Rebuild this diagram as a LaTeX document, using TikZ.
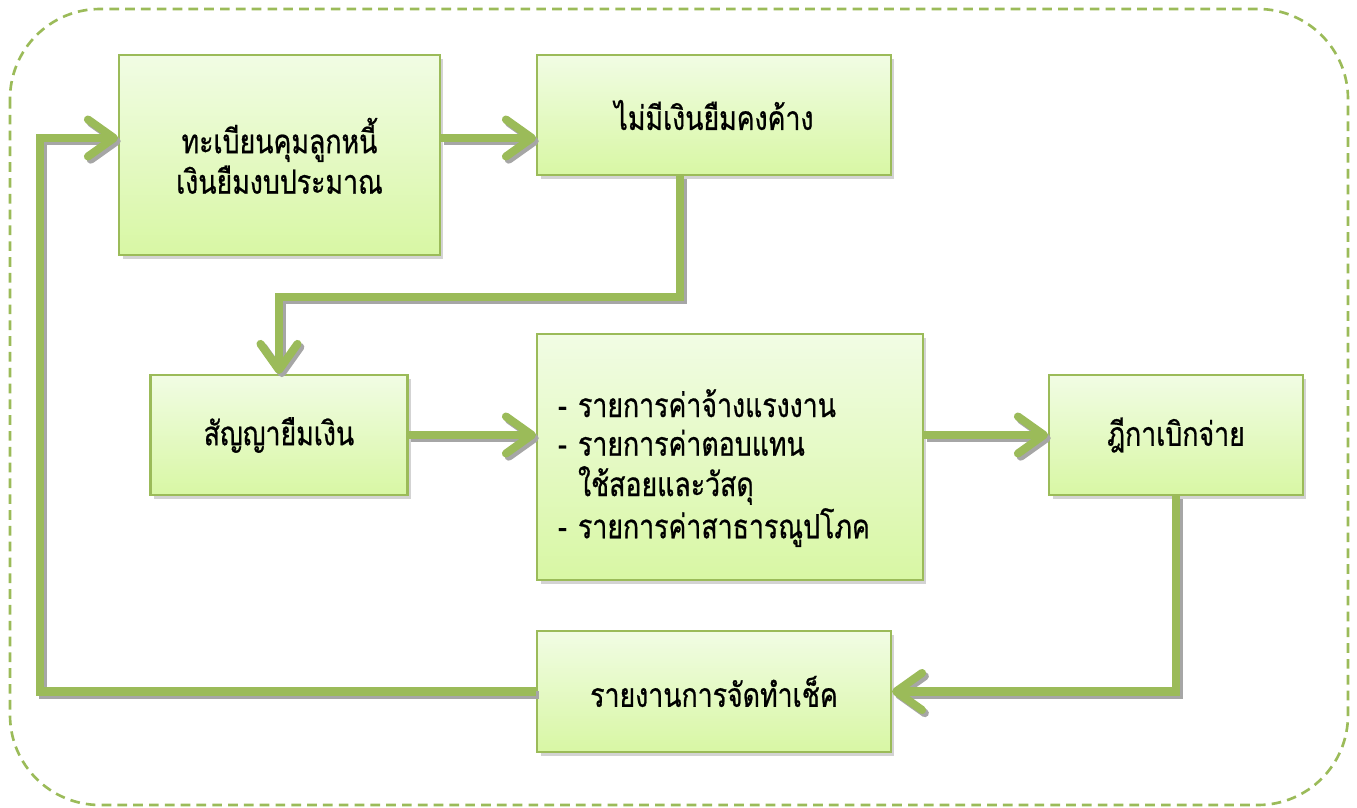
\documentclass[tikz,border=0pt]{standalone}
\usepackage{fontspec}
\newfontfamily\thaifont[Script=Thai, FakeStretch=0.8, FakeBold=0.7]{Loma}
\usepackage{tikz}
\usetikzlibrary{arrows.meta}
\usetikzlibrary{shadows}
\usepackage{xcolor}
\definecolor{linegreen}{HTML}{9BBB59}
\definecolor{boxtop}{HTML}{F1FCE4}
\definecolor{boxbottom}{HTML}{D8F7A4}
% 带阴影的粗箭头
\newcommand{\flowarrow}[1]{%
    \draw[flowshade, transform canvas={shift={(1.6pt,-1.8pt)}}] #1;
    \draw[flow] #1;}

\begin{document}
\begin{tikzpicture}[x=0.02cm, y=-0.02cm]
        % 定义样式:渐变绿色方框,带阴影
        \tikzstyle{gbox}=[rectangle, draw=linegreen, line width=1.2pt, top color=boxtop, bottom color=boxbottom,
            drop shadow={shadow xshift=2pt, shadow yshift=-2.5pt, opacity=0.35}, font=\thaifont\fontsize{19}{23}\selectfont, align=center]
        % 粗箭头:开口箭头
        \tikzstyle{flow}=[line width=4.6pt, draw=linegreen, line join=miter,
            -{Straight Barb[round, length=0.52cm, width=0.74cm]}]
        \tikzstyle{flowshade}=[flow, draw=black!35]
        
        \useasboundingbox (0,0) rectangle (1357,808);
        
        % 外框:虚线圆角矩形
        \draw[linegreen, line width=1.5pt, dash pattern=on 5.5pt off 3.5pt, rounded corners=1.8cm] (10,9) rectangle (1348,805);
        
        % 方框
        \node[gbox, minimum width=6.42cm, minimum height=4cm, text height=1.55cm] (b1) at (279.5,155) {ทะเบียนคุมลูกหนี้\\เงินยืมงบประมาณ};
        \node[gbox, minimum width=7.08cm, minimum height=2.4cm] (b2) at (714,115) {ไม่มีเงินยืมคงค้าง};
        \node[gbox, minimum width=5.14cm, minimum height=2.4cm] (b3) at (279,435) {สัญญายืมเงิน};
        \node[gbox, minimum width=7.72cm, minimum height=4.92cm, text width=6.88cm, inner xsep=0.42cm, align=left, text height=1.0cm] (b4) at (730,457)
            {- รายการค่าจ้างแรงงาน\\[-1pt] - รายการค่าตอบแทน\\[0pt] \phantom{- }ใช้สอยและวัสดุ\\[1pt] - รายการค่าสาธารณูปโภค};
        \node[gbox, minimum width=5.08cm, minimum height=2.4cm] (b5) at (1176,435) {ฎีกาเบิกจ่าย};
        \node[gbox, minimum width=7.08cm, minimum height=2.42cm] (b6) at (714,691.5) {รายงานการจัดทำเช็ค};
        
        % 折点
        \coordinate (r1) at (40,138);
        \coordinate (k1) at (680,297);
        
        % 箭头
        \flowarrow{(r1 -| b1.east) -- (r1 -| b2.west)}
        \flowarrow{(b2.south -| k1) -- (k1) -- (k1 -| b3.north) -- (b3.north)}
        \flowarrow{(b3.east) -- (b3.east -| b4.west)}
        \flowarrow{(b5.west -| b4.east) -- (b5.west)}
        \flowarrow{(b5.south) -- (b5.south |- b6.east) -- (b6.east)}
        \flowarrow{(b6.west) -- (b6.west -| r1) -- (r1) -- (r1 -| b1.west)}
    \end{tikzpicture}
\end{document}
